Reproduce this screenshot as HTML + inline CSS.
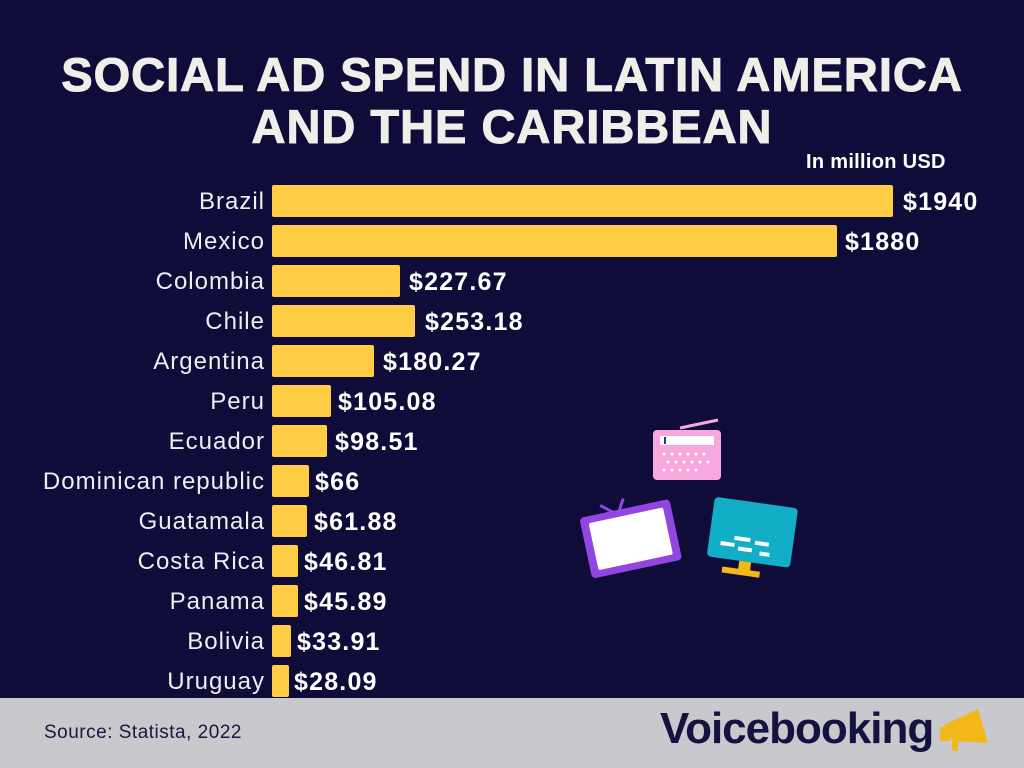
<!DOCTYPE html>
<html><head><meta charset="utf-8"><style>
body{margin:0;width:1024px;height:768px;background:#0f0c3a;position:relative;overflow:hidden;font-family:"Liberation Sans",sans-serif}
.t{position:absolute;left:0;width:1024px;text-align:center;color:#efeee9;font-weight:bold;font-size:47px;letter-spacing:1px;line-height:50px;-webkit-text-stroke:1px #efeee9}
.l{position:absolute;right:759px;color:#eeeeee;font-size:24px;letter-spacing:1px;line-height:32px;white-space:nowrap;top:1px}
.b{position:absolute;left:272px;height:32px;background:#ffcc44;border-radius:2px}
.v{position:absolute;color:#fff;font-weight:bold;font-size:25px;letter-spacing:1.2px;line-height:32px;margin-top:1px}
.f{position:absolute;left:0;top:698px;width:1024px;height:70px;background:#c9c9cd}
</style></head><body>
<div class="t" style="top:50px">SOCIAL AD SPEND IN LATIN AMERICA</div>
<div class="t" style="top:102px">AND THE CARIBBEAN</div>
<div style="position:absolute;left:806px;top:151px;color:#fff;font-weight:bold;font-size:20px;letter-spacing:0.3px">In million USD</div>
<div class="l" style="top:186px">Brazil</div><div class="b" style="top:185px;width:621px"></div><div class="v" style="top:185px;left:903px">$1940</div>
<div class="l" style="top:226px">Mexico</div><div class="b" style="top:225px;width:565px"></div><div class="v" style="top:225px;left:845px">$1880</div>
<div class="l" style="top:266px">Colombia</div><div class="b" style="top:265px;width:128px"></div><div class="v" style="top:265px;left:409px">$227.67</div>
<div class="l" style="top:306px">Chile</div><div class="b" style="top:305px;width:143px"></div><div class="v" style="top:305px;left:425px">$253.18</div>
<div class="l" style="top:346px">Argentina</div><div class="b" style="top:345px;width:102px"></div><div class="v" style="top:345px;left:383px">$180.27</div>
<div class="l" style="top:386px">Peru</div><div class="b" style="top:385px;width:59px"></div><div class="v" style="top:385px;left:338px">$105.08</div>
<div class="l" style="top:426px">Ecuador</div><div class="b" style="top:425px;width:55px"></div><div class="v" style="top:425px;left:335px">$98.51</div>
<div class="l" style="top:466px">Dominican republic</div><div class="b" style="top:465px;width:37px"></div><div class="v" style="top:465px;left:315px">$66</div>
<div class="l" style="top:506px">Guatamala</div><div class="b" style="top:505px;width:35px"></div><div class="v" style="top:505px;left:314px">$61.88</div>
<div class="l" style="top:546px">Costa Rica</div><div class="b" style="top:545px;width:26px"></div><div class="v" style="top:545px;left:304px">$46.81</div>
<div class="l" style="top:586px">Panama</div><div class="b" style="top:585px;width:26px"></div><div class="v" style="top:585px;left:304px">$45.89</div>
<div class="l" style="top:626px">Bolivia</div><div class="b" style="top:625px;width:19px"></div><div class="v" style="top:625px;left:297px">$33.91</div>
<div class="l" style="top:666px">Uruguay</div><div class="b" style="top:665px;width:17px"></div><div class="v" style="top:665px;left:294px">$28.09</div>
<svg style="position:absolute;left:0;top:0" width="1024" height="768">
<line x1="680" y1="428" x2="718" y2="420" stroke="#f7a8dc" stroke-width="3"/>
<rect x="653" y="430" width="68" height="50" rx="4" fill="#f7a8dc"/>
<rect x="660" y="436" width="54" height="9" fill="#fff"/>
<rect x="664" y="437" width="2" height="7" fill="#2233aa"/>
<g fill="#fff"><circle cx="664" cy="454" r="1.5"/><circle cx="672" cy="454" r="1.5"/><circle cx="680" cy="454" r="1.5"/><circle cx="688" cy="454" r="1.5"/><circle cx="696" cy="454" r="1.5"/><circle cx="704" cy="454" r="1.5"/><circle cx="668" cy="462" r="1.5"/><circle cx="676" cy="462" r="1.5"/><circle cx="684" cy="462" r="1.5"/><circle cx="692" cy="462" r="1.5"/><circle cx="700" cy="462" r="1.5"/><circle cx="708" cy="462" r="1.5"/><circle cx="664" cy="470" r="1.5"/><circle cx="672" cy="470" r="1.5"/><circle cx="680" cy="470" r="1.5"/><circle cx="688" cy="470" r="1.5"/><circle cx="696" cy="470" r="1.5"/></g>
<g transform="rotate(-12 630 540)"><line x1="620" y1="510" x2="608" y2="500" stroke="#9146e0" stroke-width="3"/><line x1="625" y1="510" x2="632" y2="498" stroke="#9146e0" stroke-width="3"/><rect x="585" y="508" width="92" height="62" rx="4" fill="#9146e0"/><rect x="593" y="515" width="76" height="48" rx="2" fill="#fff"/></g>
<g transform="rotate(8 750 535)"><rect x="710" y="502" width="84" height="60" rx="4" fill="#12aec8"/><rect x="735" y="538" width="16" height="4" fill="#fff"/><rect x="756" y="540" width="14" height="4" fill="#fff"/><rect x="722" y="545" width="14" height="4" fill="#fff"/><rect x="740" y="548" width="14" height="4" fill="#fff"/><rect x="762" y="550" width="10" height="4" fill="#fff"/><rect x="743" y="562" width="12" height="10" fill="#f2b81a"/><rect x="727" y="570" width="38" height="6" fill="#f2b81a"/></g>
</svg>
<div class="f"></div>
<div style="position:absolute;left:44px;top:722px;font-size:19px;letter-spacing:0.5px;color:#1a1740">Source: Statista, 2022</div>
<div style="position:absolute;left:660px;top:704px;font-size:44px;font-weight:bold;color:#16123f;letter-spacing:-1px">Voicebooking</div>
<svg style="position:absolute;left:938px;top:703px" width="56" height="50"><polygon points="6,22 40,6 50,40 14,38" fill="#f2b81a"/><rect x="2" y="24" width="10" height="14" fill="#f2b81a"/><rect x="14" y="38" width="6" height="10" fill="#f2b81a"/></svg>
</body></html>
